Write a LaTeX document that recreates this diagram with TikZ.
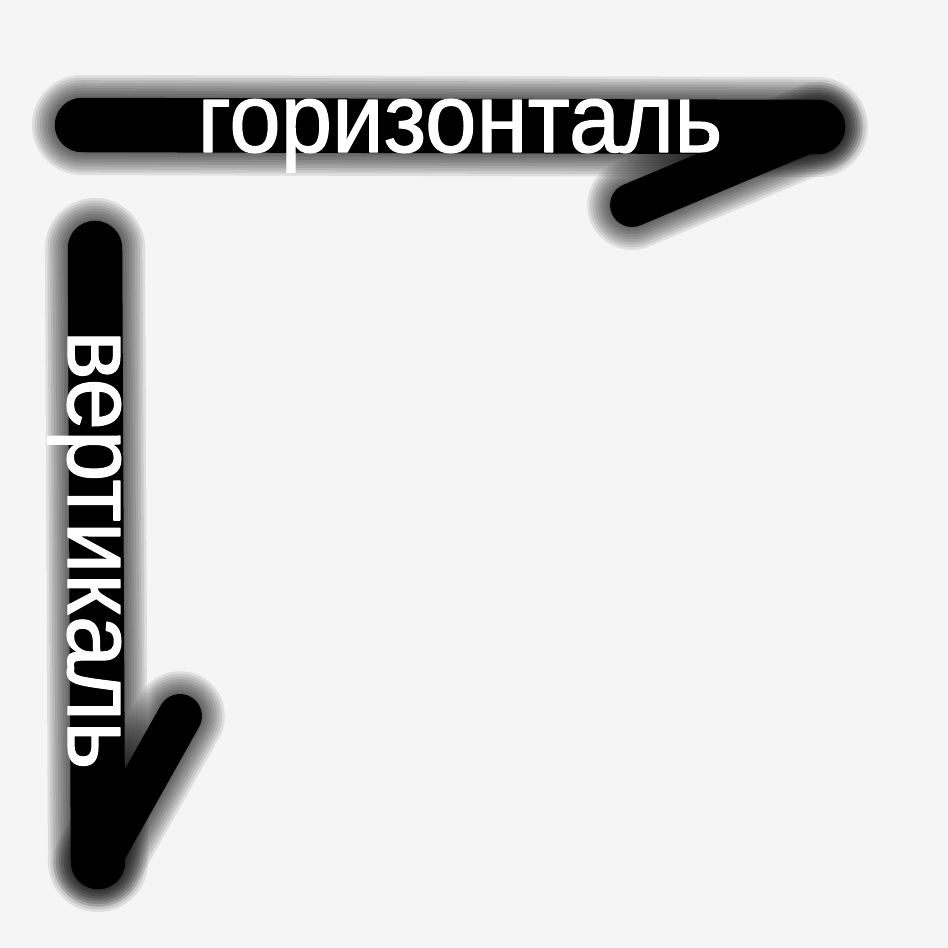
\documentclass[tikz,border=0pt]{standalone}
\usepackage{fontspec}
\newfontfamily\labelfont[FakeStretch=0.94, FakeBold=1.2]{Liberation Sans}
\definecolor{paper}{RGB}{245,245,245}

\begin{document}
\begin{tikzpicture}[x=0.02cm, y=-0.02cm, line cap=round, line join=round,
  labeltext/.style={text=white, font=\labelfont\fontsize{56}{56}\selectfont, inner sep=0pt}]
  \fill[paper] (0,0) rectangle (948,948);
  \useasboundingbox (0,0) rectangle (948,948);

  \coordinate (h1) at (82,125);
  \coordinate (h2) at (818,127);
  \coordinate (h3) at (632,205);
  \coordinate (v1) at (95,248);
  \coordinate (v2) at (98,862);
  \coordinate (v3) at (180,716);

  % soft edges: many faint strokes under a solid core
  \foreach \g in {26,23,...,2} {
    \draw[line width=31pt+\g pt, opacity=0.09] (h1) -- (h2);
    \draw[line width=25pt+\g pt, opacity=0.09] (h2) -- (h3);
    \draw[line width=31pt+\g pt, opacity=0.09] (v1) -- (v2);
    \draw[line width=25pt+\g pt, opacity=0.09] (v2) -- (v3);
  }
  \draw[line width=31pt] (h1) -- (h2);
  \draw[line width=25pt] (h2) -- (h3);
  \draw[line width=31pt] (v1) -- (v2);
  \draw[line width=25pt] (v2) -- (v3);

  \node[labeltext, anchor=base] (horiz) at (460,152) {горизонталь};
  \node[labeltext, rotate=-90, anchor=base] (vert) at (68,550) {вертикаль};
\end{tikzpicture}
\end{document}
